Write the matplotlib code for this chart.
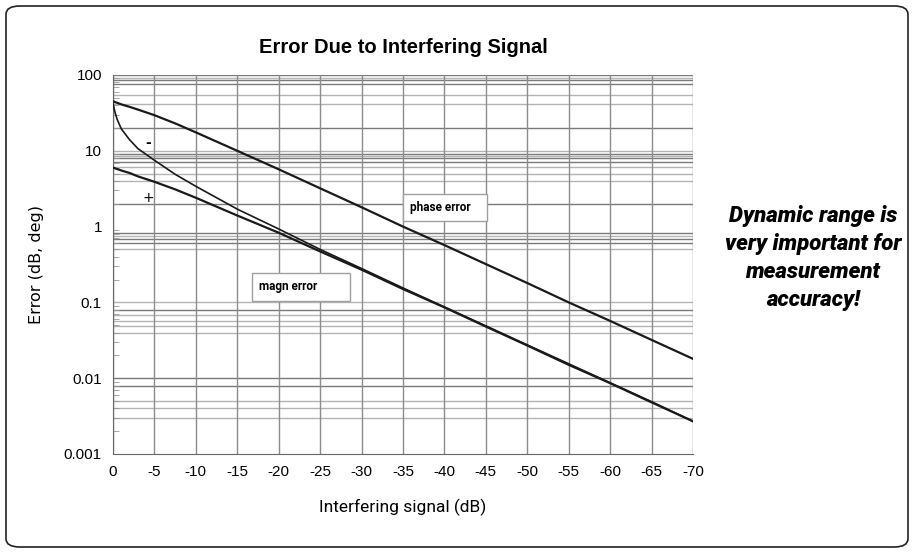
import matplotlib
matplotlib.use("Agg")
import matplotlib.pyplot as plt
from matplotlib.patches import FancyBboxPatch

# --- data ---
x_phase = [0, -1, -2, -3, -5, -7.5, -10, -15, -20, -25, -30, -35, -40, -45, -50, -55, -60, -65, -70]
phase_err = [45, 41, 38, 35, 29.5, 23, 17.5, 10, 5.7, 3.2, 1.8, 1.0, 0.57, 0.32, 0.18, 0.1, 0.057, 0.032, 0.018]

x_plus = [0, -1, -2, -3, -5, -7.5, -10, -15, -20, -25, -30, -35, -40, -45, -50, -55, -60, -65, -70]
magn_plus = [6.0, 5.5, 5.1, 4.6, 3.9, 3.1, 2.4, 1.4, 0.83, 0.47, 0.27, 0.15, 0.086, 0.048, 0.027, 0.015, 0.0086, 0.0048, 0.0027]

x_minus = [0, -0.25, -0.5, -1, -2, -3, -5, -7.5, -10, -15, -20, -25, -30, -35, -40, -45, -50, -55, -60, -65, -70]
magn_minus = [42, 32, 26, 19.5, 14, 10.7, 7.5, 4.9, 3.4, 1.7, 0.93, 0.5, 0.28, 0.155, 0.087, 0.049, 0.0275, 0.0155, 0.0087, 0.0049, 0.0027]

x_ticks = [0, -5, -10, -15, -20, -25, -30, -35, -40, -45, -50, -55, -60, -65, -70]
x_labels = ["0", "-5", "-10", "-15", "-20", "-25", "-30", "-35", "-40", "-45", "-50", "-55", "-60", "-65", "-70"]
y_ticks = [0.001, 0.01, 0.1, 1, 10, 100]
y_labels = ["0.001", "0.01", "0.1", "1", "10", "100"]

# the scanned grid is irregular, these are the horizontal lines as drawn
grid_dark = [100, 85, 75, 20, 9.2, 8.0, 7.2, 2.0, 0.82, 0.68, 0.6, 0.08, 0.01, 0.008]
grid_light = [92, 54, 41, 10, 8.6, 6.2, 5.0, 4.0, 0.76, 0.5, 0.1, 0.068, 0.057, 0.049, 0.04,
              0.005, 0.004, 0.003]

fig = plt.figure(figsize=(9.14, 5.53), dpi=100)
ax = fig.add_axes([113 / 914, 1 - 454 / 553, 580 / 914, 379 / 553])

ax.set_yscale("log")
ax.set_xlim(0, -70)
ax.set_ylim(0.001, 100)

for v in grid_light:
    ax.axhline(v, color="#b4b4b4", lw=1.0, zorder=1)
for v in grid_dark:
    ax.axhline(v, color="#7a7a7a", lw=1.0, zorder=1)
for v in x_ticks:
    ax.axvline(v, color="#8c8c8c", lw=1.0, zorder=1)

ax.plot(x_phase, phase_err, color="#1a1a1a", lw=1.6, zorder=3)
ax.plot(x_plus, magn_plus, color="#1a1a1a", lw=1.6, zorder=3)
ax.plot(x_minus, magn_minus, color="#1a1a1a", lw=1.2, zorder=3)

ax.set_xticks(x_ticks)
ax.set_xticklabels(x_labels, fontsize=11, family="Liberation Sans")
ax.set_yticks(y_ticks)
ax.set_yticklabels(y_labels, fontsize=11, family="Liberation Sans")
ax.tick_params(axis="both", which="major", length=0, pad=8)
ax.tick_params(axis="y", which="minor", direction="in", length=4, color="#999999")
ax.tick_params(axis="x", which="minor", length=0)

for s in ["top", "right"]:
    ax.spines[s].set_visible(False)
ax.spines["left"].set_color("#666666")
ax.spines["bottom"].set_color("#666666")

ax.set_xlabel("Interfering signal (dB)", fontsize=12.5, family="Roboto", labelpad=14)
ax.set_ylabel("Error (dB, deg)", fontsize=11.5, family="DejaVu Sans", labelpad=14)
ax.set_title("Error Due to Interfering Signal", fontsize=14.5, fontweight="bold",
             family="Liberation Sans", pad=16)

box = dict(boxstyle="square,pad=0.6", fc="white", ec="#a0a0a0", lw=1.0)
ax.text(-35.9, 1.8, "phase error   ", fontsize=8.5, family="Roboto", fontweight="bold",
        va="center", ha="left", bbox=box, zorder=4)
ax.text(-17.6, 0.16, "magn error         ", fontsize=8.5, family="Roboto", fontweight="bold",
        va="center", ha="left", bbox=box, zorder=4)
ax.text(-4.2, 12.5, "-", fontsize=10, ha="center", va="center", fontweight="bold")
ax.text(-4.3, 2.4, "+", fontsize=10, ha="center", va="center")

fig.text(813 / 914, 1 - 258 / 553, "Dynamic range is\nvery important for\nmeasurement\naccuracy!",
         fontsize=16, family="Roboto", fontweight="heavy", style="italic",
         ha="center", va="center", linespacing=1.35)

frame = FancyBboxPatch((6 / 914, 6 / 553), 902 / 914, 541 / 553,
                       boxstyle="round,pad=0,rounding_size=0.015",
                       transform=fig.transFigure, fill=False, ec="#222222", lw=1.2)
fig.patches.append(frame)

fig.savefig("out.png", dpi=100)
